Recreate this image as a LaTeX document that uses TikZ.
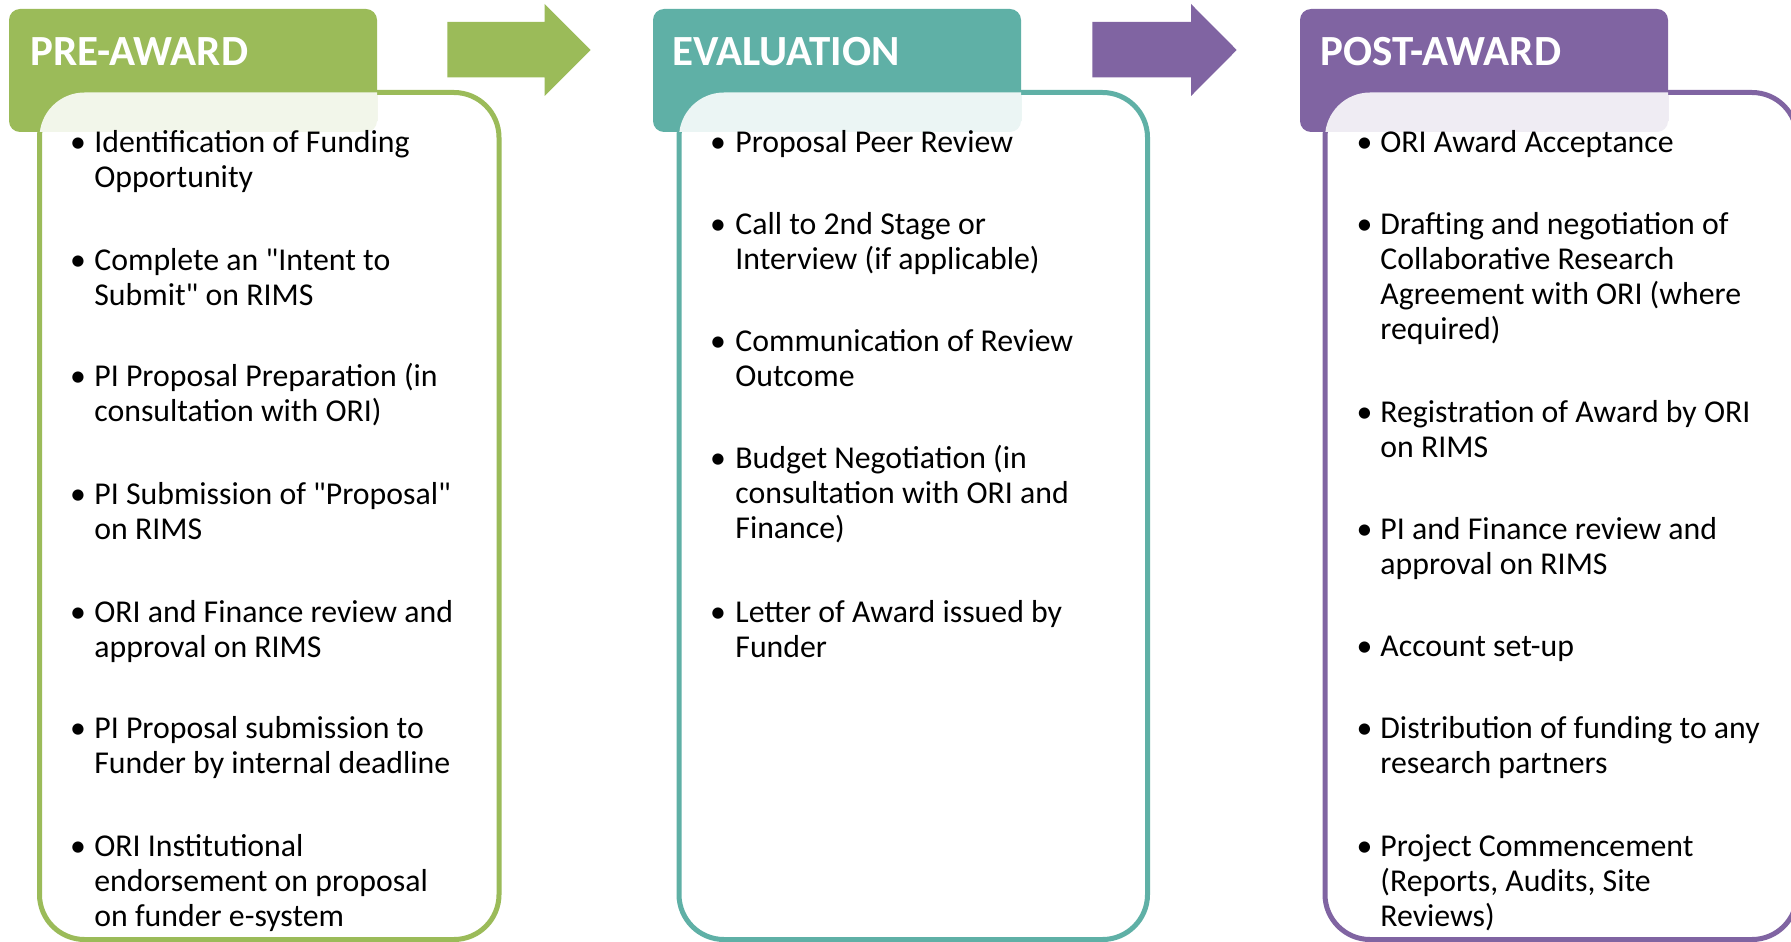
\documentclass[tikz,border=0pt]{standalone}
\usepackage{fontspec}
\setmainfont{Carlito}[Ligatures=TeXOff]
\definecolor{cgreen}{HTML}{9BBB59}
\definecolor{cteal}{HTML}{5FB0A6}
\definecolor{cpurple}{HTML}{8064A2}
\tikzset{
  bul/.style={anchor=base,inner sep=0pt,font=\fontsize{15.9}{19}\selectfont},
  txt/.style={anchor=base west,inner sep=0pt,font=\fontsize{15.9}{19}\selectfont},
  headtxt/.style={anchor=base west,inner sep=0pt,text=white,font=\fontsize{21.5}{25}\selectfont\bfseries},
  panel/.style={draw=#1,line width=2.5pt,fill=white,rounded corners=22.5pt},
  veil/.style={fill=white,fill opacity=0.88,rounded corners=22.5pt},
  headbox/.style={fill=#1,rounded corners=5.5pt},
  blockarrow/.style={fill=#1}
}
\newcommand\bitem[5]{%
  \node[bul] (#1b) at (#2,#4+2.5) {•};
  \foreach \ln [count=\k from 0] in {#5} {
    \node[txt] (#1-\k) at (#3+1,{#4+2.5+35*\k}) {\ln};
  }%
}
\begin{document}
\begin{tikzpicture}[x=0.5pt,y=-0.5pt]
\useasboundingbox (0,0) rectangle (1791,941);
\clip (0,0) rectangle (1791,941);
\fill[white] (0,0) rectangle (1791,941);

% panels (outline)
\path[panel=cgreen] (39.5,92.5) rectangle (499,939.5);
\path[panel=cteal] (679,92.5) rectangle (1147.5,939.5);
\path[panel=cpurple] (1325,92.5) rectangle (1797,939.5);

% headers
\path[headbox=cgreen] (9,9) rectangle (377,132);
\path[headbox=cteal] (653,9) rectangle (1021,132);
\path[headbox=cpurple] (1300,9) rectangle (1668,132);

% translucent panel fills over the headers only
\begin{scope}
  \clip (9,9) rectangle (377,132);
  \path[veil] (39.5,92.5) rectangle (499,939.5);
\end{scope}
\begin{scope}
  \clip (653,9) rectangle (1021,132);
  \path[veil] (679,92.5) rectangle (1147.5,939.5);
\end{scope}
\begin{scope}
  \clip (1300,9) rectangle (1668,132);
  \path[veil] (1325,92.5) rectangle (1797,939.5);
\end{scope}

% block arrows
\path[blockarrow=cgreen] (447.3,22) -- (544.7,22) -- (544.7,4) -- (590.7,50) -- (544.7,96) -- (544.7,77.3) -- (447.3,77.3) -- cycle;
\path[blockarrow=cpurple] (1092.3,22) -- (1191,22) -- (1191,4) -- (1236.7,50) -- (1191,96) -- (1191,77.3) -- (1092.3,77.3) -- cycle;

% header texts
\node[headtxt] (h1) at (30,66) {PRE-AWARD};
\node[headtxt] (h2) at (672,66) {EVALUATION};
\node[headtxt] (h3) at (1320,66) {POST-AWARD};

% pre-award
\bitem{a1}{78}{93}{150}{Identification of Funding,Opportunity}
\bitem{a2}{78}{93}{267.7}{Complete an "Intent to,Submit" on RIMS}
\bitem{a3}{78}{93}{384.2}{PI Proposal Preparation (in,consultation with ORI)}
\bitem{a4}{78}{93}{501.8}{PI Submission of "Proposal",on RIMS}
\bitem{a5}{78}{93}{619.5}{ORI and Finance review and,approval on RIMS}
\bitem{a6}{78}{93}{736}{PI Proposal submission to,Funder by internal deadline}
\bitem{a7}{78}{93}{853.6}{ORI Institutional,endorsement on proposal,on funder e-system}

% evaluation
\bitem{b1}{718}{734}{150}{Proposal Peer Review}
\bitem{b2}{718}{734}{232.3}{Call to 2nd Stage or,Interview (if applicable)}
\bitem{b3}{718}{734}{348.8}{Communication of Review,Outcome}
\bitem{b4}{718}{734}{466.4}{Budget Negotiation (in,consultation with ORI and,Finance)}
\bitem{b5}{718}{734}{619.5}{Letter of Award issued by,Funder}

% post-award
\bitem{c1}{1364.5}{1379}{150}{ORI Award Acceptance}
\bitem{c2}{1364.5}{1379}{232.3}{Drafting and negotiation of,Collaborative Research,Agreement with ORI (where,required)}
\bitem{c3}{1364.5}{1379}{419.6}{Registration of Award by ORI,on RIMS}
\bitem{c4}{1364.5}{1379}{537.2}{PI and Finance review and,approval on RIMS}
\bitem{c5}{1364.5}{1379}{653.7}{Account set-up}
\bitem{c6}{1364.5}{1379}{736}{Distribution of funding to any,research partners}
\bitem{c7}{1364.5}{1379}{853.6}{Project Commencement,{(Reports, Audits, Site},Reviews)}
\end{tikzpicture}
\end{document}
